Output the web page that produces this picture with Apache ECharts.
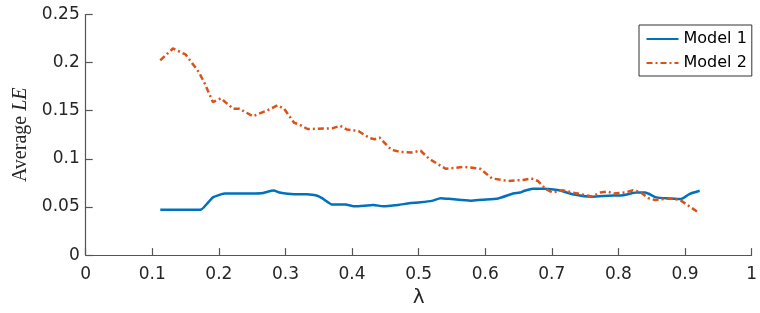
<!DOCTYPE html>
<html>
<head>
<meta charset="utf-8">
<script src="https://cdn.jsdelivr.net/npm/echarts@6/dist/echarts.min.js"></script>
<style>html,body{margin:0;padding:0;background:#fff;}#c{width:760px;height:313px;}</style>
</head>
<body>
<div id="c"></div>
<script>
const seriesNames = ['Model 1', 'Model 2'];
const xTicks = [0, 0.1, 0.2, 0.3, 0.4, 0.5, 0.6, 0.7, 0.8, 0.9, 1];
const yTicks = [0, 0.05, 0.1, 0.15, 0.2, 0.25];

const model1X = [0.112, 0.172, 0.184, 0.191, 0.204, 0.209, 0.234, 0.2635, 0.2823, 0.291, 0.313, 0.333, 0.340, 0.3476, 0.355, 0.371, 0.390, 0.4045, 0.432, 0.4466, 0.469, 0.486, 0.503, 0.521, 0.533, 0.550, 0.578, 0.595, 0.6195, 0.642, 0.652, 0.659, 0.6715, 0.689, 0.711, 0.731, 0.7605, 0.785, 0.808, 0.827, 0.840, 0.857, 0.877, 0.894, 0.9065, 0.922];
const model1Y = [0.047, 0.047, 0.0548, 0.060, 0.0633, 0.064, 0.064, 0.0643, 0.0671, 0.065, 0.0633, 0.0633, 0.0627, 0.0617, 0.0592, 0.0525, 0.0525, 0.0507, 0.0521, 0.0507, 0.0521, 0.0538, 0.0548, 0.0566, 0.0592, 0.0582, 0.0566, 0.0576, 0.0589, 0.064, 0.065, 0.0668, 0.069, 0.069, 0.0674, 0.0633, 0.0607, 0.0617, 0.0623, 0.065, 0.065, 0.060, 0.0589, 0.0582, 0.0633, 0.0668];

const model2X = [0.112, 0.131, 0.150, 0.170, 0.179, 0.191, 0.203, 0.2215, 0.231, 0.251, 0.273, 0.288, 0.298, 0.313, 0.320, 0.333, 0.370, 0.382, 0.392, 0.4095, 0.427, 0.434, 0.4415, 0.459, 0.474, 0.4886, 0.503, 0.516, 0.5405, 0.568, 0.5925, 0.610, 0.634, 0.657, 0.669, 0.679, 0.691, 0.701, 0.716, 0.731, 0.751, 0.7605, 0.773, 0.783, 0.793, 0.810, 0.822, 0.832, 0.845, 0.855, 0.872, 0.884, 0.894, 0.9065, 0.921];
const model2Y = [0.2024, 0.2147, 0.2085, 0.190, 0.178, 0.159, 0.163, 0.152, 0.152, 0.1443, 0.1504, 0.1556, 0.152, 0.1375, 0.136, 0.131, 0.1317, 0.1344, 0.1306, 0.1289, 0.1214, 0.1204, 0.122, 0.1094, 0.1071, 0.1067, 0.1084, 0.0999, 0.0897, 0.0917, 0.0897, 0.0797, 0.077, 0.0781, 0.0797, 0.077, 0.0685, 0.065, 0.0674, 0.065, 0.0623, 0.061, 0.065, 0.066, 0.064, 0.065, 0.0674, 0.0658, 0.0592, 0.0572, 0.0586, 0.0586, 0.0566, 0.0507, 0.0439];

const pair = (xs, ys) => xs.map((x, i) => [x, ys[i]]);
const textColor = '#262626';
const axisColor = '#555555';
const sans = 'DejaVu Sans, sans-serif';
const serif = 'Liberation Serif, Times New Roman, serif';

const chart = echarts.init(document.getElementById('c'), null, {renderer: 'canvas'});
chart.setOption({
  backgroundColor: '#ffffff',
  animation: false,
  grid: {left: 85.7, right: 0.3, top: 14.5, bottom: 54.5, containLabel: false},
  legend: {
    data: seriesNames,
    orient: 'vertical',
    left: 639, top: 25,
    padding: [5, 5, 4, 6.5],
    itemWidth: 32, itemHeight: 14, itemGap: 6,
    itemStyle: {opacity: 0, borderWidth: 0},
    borderColor: '#333', borderWidth: 1, backgroundColor: '#fff',
    textStyle: {fontFamily: sans, fontSize: 16, lineHeight: 18, color: '#000'}
  },
  xAxis: {
    type: 'value', min: xTicks[0], max: xTicks[xTicks.length - 1], interval: 0.1,
    name: 'λ', nameLocation: 'middle', nameGap: 29,
    nameTextStyle: {fontFamily: sans, fontSize: 20, color: textColor},
    axisLine: {show: true, lineStyle: {color: axisColor, width: 1.2}},
    axisTick: {show: true, inside: true, length: 7, lineStyle: {color: axisColor, width: 1.2}},
    axisLabel: {fontFamily: sans, fontSize: 17, color: textColor, margin: 11},
    splitLine: {show: false}
  },
  yAxis: {
    type: 'value', min: yTicks[0], max: yTicks[yTicks.length - 1], interval: 0.05,
    name: '{a|Average }{b|LE}', nameLocation: 'middle', nameGap: 54, nameRotate: 90,
    nameTextStyle: {
      rich: {
        a: {fontFamily: serif, fontSize: 20, color: textColor},
        b: {fontFamily: serif, fontSize: 20, fontStyle: 'italic', color: textColor}
      }
    },
    axisLine: {show: true, lineStyle: {color: axisColor, width: 1.2}},
    axisTick: {show: true, inside: true, length: 7, lineStyle: {color: axisColor, width: 1.2}},
    axisLabel: {fontFamily: sans, fontSize: 17, color: textColor, margin: 6},
    splitLine: {show: false}
  },
  series: [
    {
      name: seriesNames[0], type: 'line', symbol: 'none', smooth: 0.2,
      data: pair(model1X, model1Y),
      lineStyle: {color: '#0072BD', width: 2.5},
      itemStyle: {color: '#0072BD'}
    },
    {
      name: seriesNames[1], type: 'line', symbol: 'none', smooth: false,
      data: pair(model2X, model2Y),
      lineStyle: {color: '#D95319', width: 2.5, type: [6, 3, 2, 3]},
      itemStyle: {color: '#D95319'}
    }
  ]
});
</script>
</body>
</html>
